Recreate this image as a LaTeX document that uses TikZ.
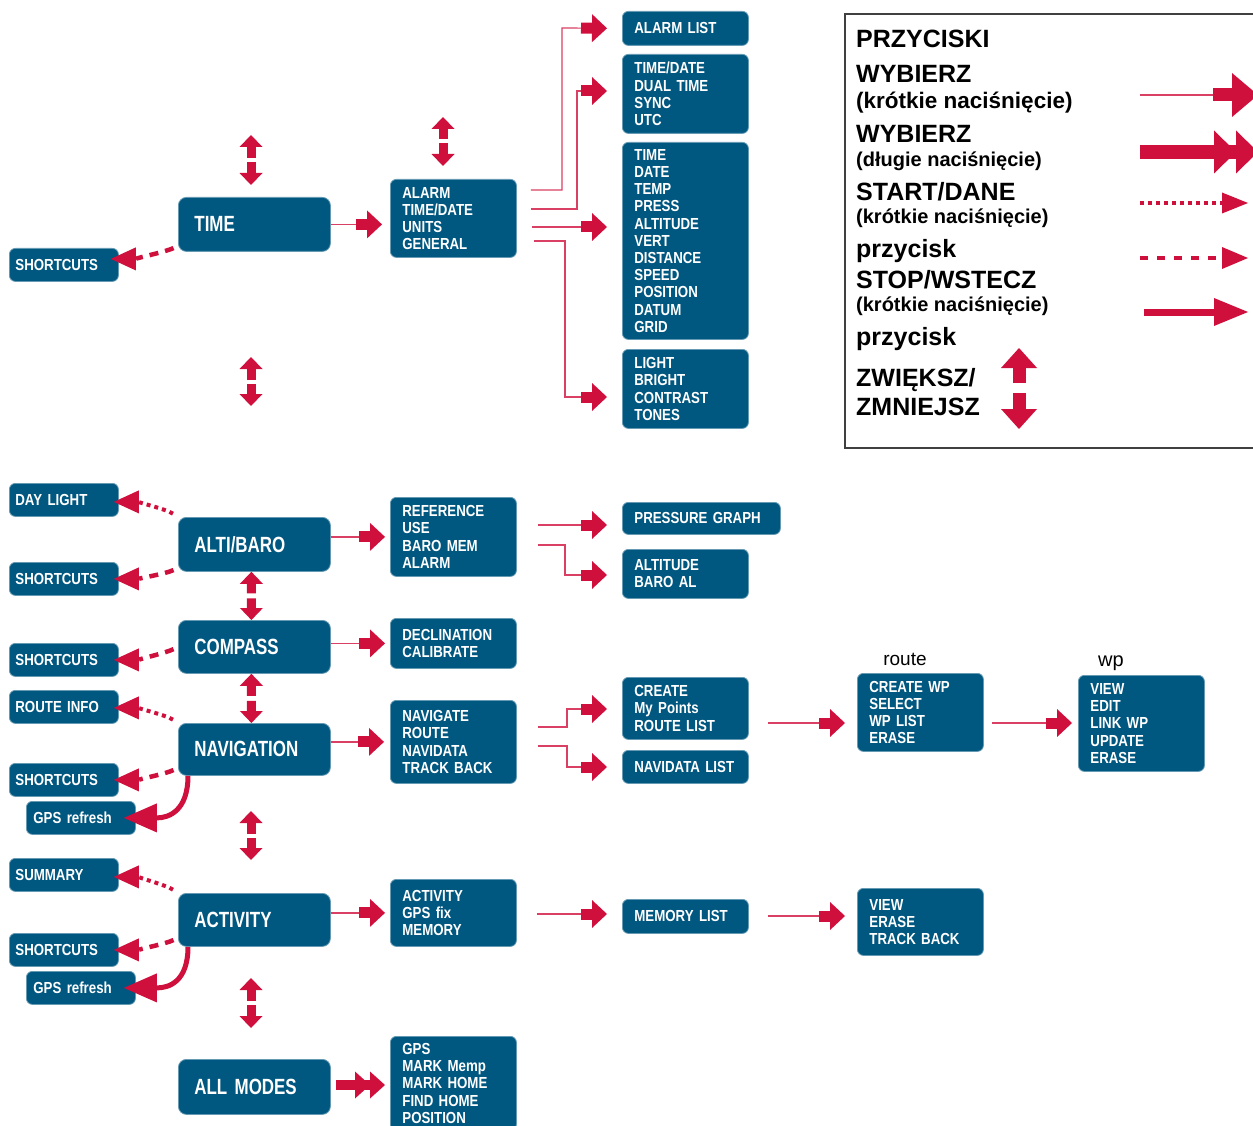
\documentclass[tikz,border=0pt]{standalone}
\usepackage{fontspec}
\setmainfont{Liberation Sans}
\newfontfamily\menufont[FakeStretch=0.83]{Liberation Sans Bold}
\newfontfamily\modefont[FakeStretch=0.77]{Liberation Sans Bold}
\usetikzlibrary{arrows.meta,calc,positioning}
\definecolor{boxblue}{RGB}{0,87,128}
\definecolor{arrred}{RGB}{208,16,60}

\begin{document}
\begin{tikzpicture}[x=1pt,y=-1pt]
		\tikzstyle{every node}=[inner sep=0pt]
		\tikzstyle{mode}=[draw=boxblue!60!white, line width=0.8pt, fill=boxblue, rounded corners=8pt, anchor=north west, text=white, font=\modefont\fontsize{22}{26}\selectfont, align=left, inner xsep=16pt, inner ysep=0pt, text width=120pt, minimum height=54pt]
		\tikzstyle{menu}=[mode, rounded corners=6pt, font=\menufont\fontsize{16}{17.2}\selectfont, inner xsep=12pt, text width=102pt]
		\tikzstyle{shortbox}=[menu, inner xsep=6pt, text width=97pt, minimum height=33pt]
		\tikzstyle{legtext}=[anchor=base west, font=\bfseries\fontsize{25}{30}\selectfont]
		\tikzstyle{legnote}=[anchor=base west, font=\bfseries\fontsize{20}{24}\selectfont]
		\tikzstyle{selarrow}=[draw=arrred!80, line width=1.2pt, -{Rectangle[length=11pt,width=11pt,line width=0pt,color=arrred]Triangle[length=15pt,width=28pt,line width=0pt,color=arrred]}]
		\tikzstyle{longselarrow}=[draw=arrred, line width=10pt, -{Triangle[length=15pt,width=27pt,line width=0pt]Triangle[length=15pt,width=27pt,line width=0pt]}]
		\tikzstyle{startarrow}=[draw=arrred, line width=4pt, dash pattern=on 4pt off 4pt, -{Triangle[length=25pt,width=23pt,line width=0pt]}]
		\tikzstyle{backarrow}=[draw=arrred, line width=4.5pt, dash pattern=on 9pt off 7pt, -{Triangle[length=25pt,width=23pt,line width=0pt]}]
		\tikzstyle{stoparrow}=[draw=arrred, line width=5pt, -{Triangle[length=33pt,width=29pt,line width=0pt]}]
		\tikzstyle{updown}=[draw=arrred, line width=9pt, -{Triangle[length=12pt,width=23pt,line width=0pt]}]
		\useasboundingbox (0,0) rectangle (1253,1126);
		% modes
		\node[mode] (time) at (178,197) {TIME};
		\node[mode] (alti) at (178,517) {ALTI/BARO};
		\node[mode, minimum height=53pt] (compass) at (178,620) {COMPASS};
		\node[mode, minimum height=52pt] (nav) at (178,723) {NAVIGATION};
		\node[mode, minimum height=53pt] (activity) at (178,893) {ACTIVITY};
		\node[mode, minimum height=55pt] (allmodes) at (178,1059) {ALL MODES};
		% shortcuts
		\node[shortbox] (sc1) at (9,248) {SHORTCUTS};
		\node[shortbox] (daylight) at (9,483) {DAY LIGHT};
		\node[shortbox] (sc2) at (9,562) {SHORTCUTS};
		\node[shortbox] (sc3) at (9,643) {SHORTCUTS};
		\node[shortbox] (routeinfo) at (9,690) {ROUTE INFO};
		\node[shortbox] (sc4) at (9,763) {SHORTCUTS};
		\node[shortbox, inner xsep=7pt, text width=95pt] (gps1) at (26,801) {GPS refresh};
		\node[shortbox] (summary) at (9,858) {SUMMARY};
		\node[shortbox] (sc5) at (9,933) {SHORTCUTS};
		\node[shortbox, inner xsep=7pt, text width=95pt] (gps2) at (26,971) {GPS refresh};
		% menus
		\node[menu, minimum height=78pt] (timemenu) at (390,179) {ALARM\\TIME/DATE\\UNITS\\GENERAL};
		\node[menu, minimum height=79pt] (altimenu) at (390,497) {REFERENCE\\USE\\BARO MEM\\ALARM};
		\node[menu, minimum height=50pt] (compmenu) at (390,618) {DECLINATION\\CALIBRATE};
		\node[menu, minimum height=83pt] (navmenu) at (390,700) {NAVIGATE\\ROUTE\\NAVIDATA\\TRACK BACK};
		\node[menu, minimum height=67pt] (actmenu) at (390,879) {ACTIVITY\\GPS fix\\MEMORY};
		\node[menu, minimum height=94pt] (allmenu) at (390,1036) {GPS\\MARK Memp\\MARK HOME\\FIND HOME\\POSITION};
		% submenus
		\node[menu, minimum height=34pt] (alarmlist) at (622,11) {ALARM LIST};
		\node[menu, minimum height=79pt] (tdmenu) at (622,54) {TIME/DATE\\DUAL TIME\\SYNC\\UTC};
		\node[menu, minimum height=197pt] (unitsmenu) at (622,142) {TIME\\DATE\\TEMP\\PRESS\\ALTITUDE\\VERT\\DISTANCE\\SPEED\\POSITION\\DATUM\\GRID};
		\node[menu, minimum height=79pt] (genmenu) at (622,349) {LIGHT\\BRIGHT\\CONTRAST\\TONES};
		\node[menu, minimum height=32pt, text width=134pt] (pressgraph) at (622,502) {PRESSURE GRAPH};
		\node[menu, minimum height=49pt] (altbaro) at (622,549) {ALTITUDE\\BARO AL};
		\node[menu, minimum height=62pt] (createmenu) at (622,677) {CREATE\\My Points\\ROUTE LIST};
		\node[menu, minimum height=33pt] (navdatalist) at (622,750) {NAVIDATA LIST};
		\node[menu, minimum height=34pt] (memlist) at (622,899) {MEMORY LIST};
		\node[menu, minimum height=78pt] (routemenu) at (857,673) {CREATE WP\\SELECT\\WP LIST\\ERASE};
		\node[menu, minimum height=96pt] (wpmenu) at (1078,675) {VIEW\\EDIT\\LINK WP\\UPDATE\\ERASE};
		\node[menu, minimum height=67pt] (viewmenu) at (857,888) {VIEW\\ERASE\\TRACK BACK};
		\node[font=\fontsize{19}{22}\selectfont, anchor=base] (routelbl) at (905,665) {route};
		\node[font=\fontsize{20}{22}\selectfont, anchor=base west] (wplbl) at (1098,666) {wp};
		% select (short press)
		\draw[selarrow, shorten >=8pt] (time.east) -- (time.east -| timemenu.west);
		\draw[selarrow, shorten <=14pt, shorten >=15pt] (timemenu.east |- 0,190) -| (562,28) -- (alarmlist.west);
		\draw[selarrow, shorten <=14pt, shorten >=15pt] (timemenu.east |- 0,209) -| (577,91) -- (tdmenu.west |- 0,91);
		\draw[selarrow, shorten <=15pt, shorten >=15pt] (timemenu.east |- 0,227) -- (unitsmenu.west |- 0,227);
		\draw[selarrow, shorten <=17pt, shorten >=15pt] (timemenu.east |- 0,241) -| (565,397) -- (genmenu.west |- 0,397);
		\draw[selarrow, shorten >=5pt] (alti.east |- altimenu.west) -- (altimenu.west);
		\draw[selarrow, shorten <=21pt, shorten >=15pt] (altimenu.east |- 0,525) -- (pressgraph.west |- 0,525);
		\draw[selarrow, shorten <=21pt, shorten >=15pt] (altimenu.east |- 0,545) -| (565,575) -- (altbaro.west |- 0,575);
		\draw[selarrow, shorten >=5pt] (compass.east |- compmenu.west) -- (compmenu.west);
		\draw[selarrow, shorten >=6pt] (nav.east |- navmenu.west) -- (navmenu.west);
		\draw[selarrow, shorten <=21pt, shorten >=15pt] (navmenu.east |- 0,727) -| (567,709) -- (createmenu.west |- 0,709);
		\draw[selarrow, shorten <=21pt, shorten >=15pt] (navmenu.east |- 0,746) -| (567,767) -- (navdatalist.west |- 0,767);
		\draw[selarrow, shorten <=19pt, shorten >=12pt] (createmenu.east |- 0,723) -- (routemenu.west |- 0,723);
		\draw[selarrow, shorten <=8pt, shorten >=6pt] (routemenu.east |- 0,723) -- (wpmenu.west |- 0,723);
		\draw[selarrow, shorten >=5pt] (activity.east |- actmenu.west) -- (actmenu.west);
		\draw[selarrow, shorten <=20pt, shorten >=15pt] (actmenu.east |- 0,914) -- (memlist.west |- 0,914);
		\draw[selarrow, shorten <=19pt, shorten >=12pt] (memlist.east |- 0,916) -- (viewmenu.west |- 0,916);
		\draw[longselarrow, shorten <=5pt, shorten >=5pt] (allmodes.east |- 0,1085) -- (allmenu.west |- 0,1085);
		% up/down
		\draw[updown] (251,158) -- (251,135);
		\draw[updown] (251,162) -- (251,185);
		\draw[updown] (443,139) -- (443,117);
		\draw[updown] (443,143) -- (443,166);
		\draw[updown] (251,380) -- (251,357);
		\draw[updown] (251,384) -- (251,406);
		\draw[updown] ($([xshift=-3pt]alti.south)!0.45!([xshift=-3pt]compass.north)$) -- ([xshift=-3pt]alti.south);
		\draw[updown] ($([xshift=-3pt]alti.south)!0.55!([xshift=-3pt]compass.north)$) -- ([xshift=-3pt]compass.north);
		\draw[updown] ($([xshift=-3pt]compass.south)!0.45!([xshift=-3pt]nav.north)$) -- ([xshift=-3pt]compass.south);
		\draw[updown] ($([xshift=-3pt]compass.south)!0.55!([xshift=-3pt]nav.north)$) -- ([xshift=-3pt]nav.north);
		\draw[updown] (251,834) -- (251,811);
		\draw[updown] (251,838) -- (251,860);
		\draw[updown] (251,1001) -- (251,978);
		\draw[updown] (251,1005) -- (251,1028);
		% start / back / stop
		\draw[backarrow, shorten <=5pt] ([yshift=6pt]time.south west) .. controls +(-12,6) and +(22,0) .. ([xshift=-8pt,yshift=6pt]sc1.east);
		\draw[startarrow, shorten <=6pt] (alti.north west) .. controls +(-12,-8) and +(22,0) .. ([xshift=-5pt,yshift=-2pt]daylight.east);
		\draw[backarrow, shorten <=5pt] ([yshift=4pt]alti.south west) .. controls +(-12,6) and +(22,0) .. ([xshift=-5pt]sc2.east);
		\draw[backarrow, shorten <=5pt] (compass.west) .. controls +(-12,6) and +(22,0) .. ([xshift=-5pt]sc3.east);
		\draw[startarrow, shorten <=6pt] (nav.north west) .. controls +(-12,-8) and +(22,0) .. ([xshift=-5pt,yshift=-1pt]routeinfo.east);
		\draw[backarrow, shorten <=5pt] ([yshift=8pt]nav.south west) .. controls +(-12,6) and +(22,0) .. ([xshift=-5pt]sc4.east);
		\draw[stoparrow] ([xshift=10pt]nav.south west) .. controls +(0,35) and +(45,0) .. ([xshift=-12pt]gps1.east);
		\draw[startarrow, shorten <=6pt] (activity.north west) .. controls +(-12,-8) and +(22,0) .. ([xshift=-5pt,yshift=-2pt]summary.east);
		\draw[backarrow, shorten <=5pt] ([yshift=9pt]activity.south west) .. controls +(-12,6) and +(22,0) .. ([xshift=-5pt]sc5.east);
		\draw[stoparrow] ([xshift=10pt]activity.south west) .. controls +(0,35) and +(45,0) .. ([xshift=-12pt]gps2.east);
		% legend
		\draw[black!75, line width=1.3pt] (1260,14) -- (845,14) -- (845,448) -- (1260,448);
		\node[legtext] (lgtitle) at (856,48) {PRZYCISKI};
		\node[legtext] (lgsel) at (856,83) {WYBIERZ};
		\node[legnote, font=\bfseries\fontsize{22.5}{26}\selectfont] (lgselnote) at (856,109) {(krótkie naciśnięcie)};
		\node[legtext] (lglong) at (856,143) {WYBIERZ};
		\node[legnote] (lglongnote) at (856,167) {(długie naciśnięcie)};
		\node[legtext] (lgstart) at (856,201) {START/DANE};
		\node[legnote] (lgstartnote) at (856,224) {(krótkie naciśnięcie)};
		\node[legtext] (lgstop) at (856,258) {przycisk};
		\node[legtext] (lgstopname) at (856,288) {STOP/WSTECZ};
		\node[legnote] (lgstopnote) at (856,311) {(krótkie naciśnięcie)};
		\node[legtext] (lgupdown) at (856,345) {przycisk};
		\node[legtext] (lgplus) at (856,386) {ZWIĘKSZ/};
		\node[legtext] (lgminus) at (856,415) {ZMNIEJSZ};
		\draw[draw=arrred!80, line width=1.5pt, -{Rectangle[length=19pt,width=13pt,line width=0pt,color=arrred]Triangle[length=26pt,width=44pt,line width=0pt,color=arrred]}] (1140,95) -- (1258,95);
		\draw[draw=arrred, line width=14pt, -{Triangle[length=22pt,width=43pt,line width=0pt]Triangle[length=22pt,width=43pt,line width=0pt]}] (1140,152) -- (1258,152);
		\draw[startarrow, -{Triangle[length=26pt,width=21pt,line width=0pt]}] (1140,203) -- (1248,203);
		\draw[backarrow, line width=4pt, dash pattern=on 8pt off 9pt, -{Triangle[length=26pt,width=22pt,line width=0pt]}] (1140,258) -- (1248,258);
		\draw[stoparrow, line width=7pt, -{Triangle[length=34pt,width=28pt,line width=0pt]}] (1144,312) -- (1248,312);
		\draw[draw=arrred, line width=13pt, -{Triangle[length=20pt,width=36pt,line width=0pt]}] (1019,383) -- (1019,348);
		\draw[draw=arrred, line width=13pt, -{Triangle[length=20pt,width=36pt,line width=0pt]}] (1019,393) -- (1019,429);
	\end{tikzpicture}
\end{document}
